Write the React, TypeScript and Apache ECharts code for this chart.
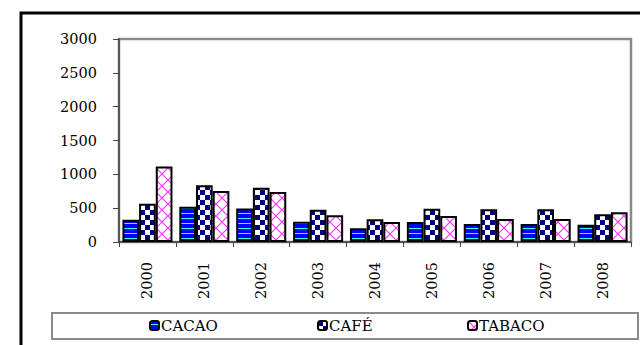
import React, { useEffect, useRef } from "react";
import * as echarts from "echarts";

const years = ["2000", "2001", "2002", "2003", "2004", "2005", "2006", "2007", "2008"];
const cacao = [330, 520, 495, 300, 205, 295, 265, 265, 255];
const cafe = [565, 840, 800, 475, 335, 490, 485, 485, 410];
const tabaco = [1115, 755, 740, 395, 295, 385, 340, 340, 440];
const seriesNames = ["CACAO", "CAFÉ", "TABACO"];
const yTicks = { min: 0, max: 3000, interval: 500 };

const FONT = "DejaVu Serif";

function makeCanvas(w: number, h: number, draw: (c: CanvasRenderingContext2D) => void) {
  const cv = document.createElement("canvas");
  cv.width = w;
  cv.height = h;
  const ctx = cv.getContext("2d")!;
  draw(ctx);
  return cv;
}

export default function App() {
  const ref = useRef<HTMLDivElement>(null);
  useEffect(() => {
    document.body.style.margin = "0";
    if (!ref.current) return;
    const chart = echarts.init(ref.current, undefined, { renderer: "svg" });

    const cacaoPat = makeCanvas(8, 5, (c) => {
      c.fillStyle = "#0000ff";
      c.fillRect(0, 0, 8, 5);
      c.fillStyle = "#33ffff";
      c.fillRect(0, 3, 8, 1);
    });
    const cafePat = makeCanvas(10, 10, (c) => {
      c.fillStyle = "#ffffff";
      c.fillRect(0, 0, 10, 10);
      c.fillStyle = "#000080";
      c.fillRect(0, 0, 5, 5);
      c.fillRect(5, 5, 5, 5);
    });
    const tabacoPat = makeCanvas(12, 12, (c) => {
      c.fillStyle = "#ffffff";
      c.fillRect(0, 0, 12, 12);
      c.strokeStyle = "#ff33ff";
      c.lineWidth = 1.2;
      c.beginPath();
      c.moveTo(0, 0);
      c.lineTo(12, 12);
      c.moveTo(12, 0);
      c.lineTo(0, 12);
      c.stroke();
    });
    const pats = [cacaoPat, cafePat, tabacoPat];
    const dataSets = [cacao, cafe, tabaco];

    const legendLefts = [149, 317, 467];

    chart.setOption({
      animation: false,
      backgroundColor: "#ffffff",
      textStyle: { fontFamily: FONT },
      grid: {
        left: 119,
        top: 39,
        right: 9,
        bottom: 103,
        show: true,
        borderColor: "#8a8a8a",
        borderWidth: 2.5,
        backgroundColor: "transparent",
      },
      graphic: [
        {
          type: "rect",
          shape: { x: 21, y: 13, width: 640, height: 345 },
          style: { fill: "none", stroke: "#000", lineWidth: 3 },
          silent: true,
        },
        {
          type: "rect",
          shape: { x: 52, y: 313, width: 586, height: 26 },
          style: { fill: "none", stroke: "#8a8a8a", lineWidth: 2 },
          silent: true,
        },
      ],
      legend: seriesNames.map((n, i) => ({
        data: [n],
        left: legendLefts[i],
        top: 318,
        itemWidth: 9,
        itemHeight: 9,
        itemGap: 0,
        padding: 0,
        textStyle: { fontFamily: FONT, fontSize: 15, color: "#000", padding: [2, 0, 0, -3] },
      })),
      xAxis: {
        type: "category",
        data: years,
        axisLine: { lineStyle: { color: "#444", width: 1.5 } },
        axisTick: { show: true, length: 5, lineStyle: { color: "#444" } },
        axisLabel: {
          rotate: 90,
          margin: 20,
          fontFamily: FONT,
          fontSize: 14.5,
          color: "#000",
        },
      },
      yAxis: {
        type: "value",
        min: yTicks.min,
        max: yTicks.max,
        interval: yTicks.interval,
        splitLine: { show: false },
        axisLine: { show: true, lineStyle: { color: "#444", width: 1.5 } },
        axisTick: { show: true, length: 6, lineStyle: { color: "#444" } },
        axisLabel: {
          margin: 22,
          fontFamily: FONT,
          fontSize: 14.5,
          color: "#000",
          formatter: (v: number) => String(v),
        },
      },
      series: seriesNames.map((n, i) => ({
        name: n,
        type: "bar",
        data: dataSets[i],
        barGap: "0%",
        barCategoryGap: "12%",
        itemStyle: {
          color: { image: pats[i], repeat: "repeat" },
          borderColor: "#000",
          borderWidth: 2,
        },
      })),
    });
    return () => chart.dispose();
  }, []);
  return <div ref={ref} style={{ width: 640, height: 345 }} />;
}
